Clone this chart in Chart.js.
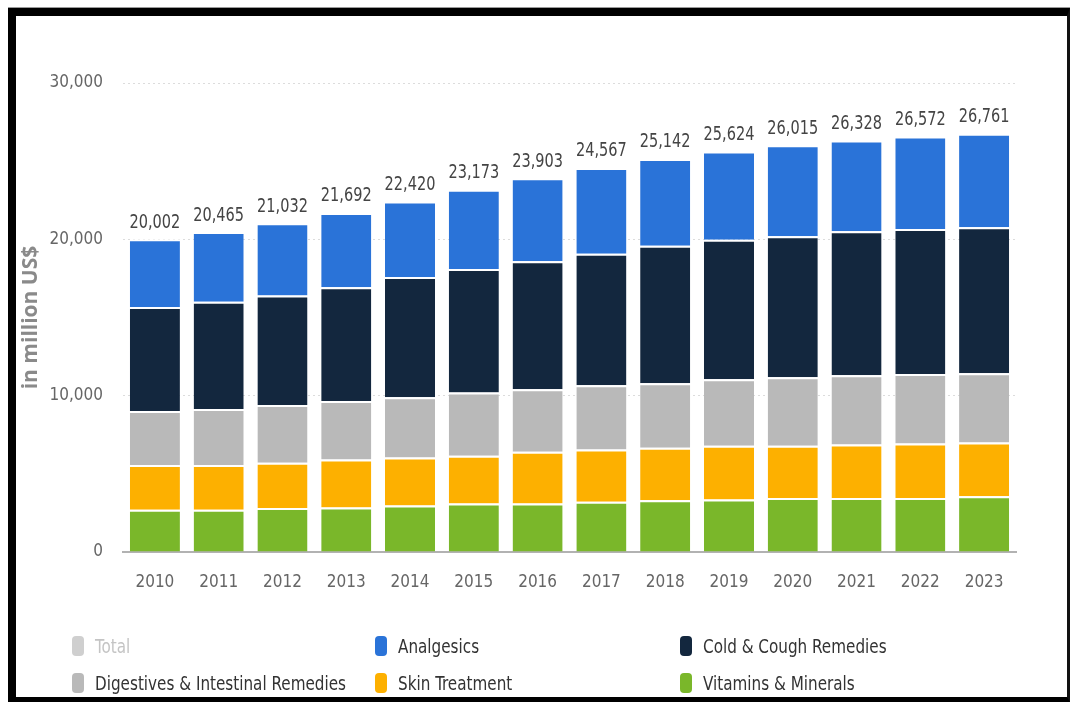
<!DOCTYPE html>
<html>
<head>
<meta charset="utf-8">
<script src="https://cdn.jsdelivr.net/npm/chart.js@4/dist/chart.umd.min.js"></script>
<style>
  html, body { margin: 0; padding: 0; background: #ffffff; }
  #wrap { position: relative; width: 1070px; height: 702px; overflow: hidden; background: #ffffff; }
  #chart { position: absolute; left: 0; top: 0; }
  #frame {
    position: absolute; left: 8px; top: 8px; width: 1051px; height: 681px;
    border-top: 8px solid #000; border-left: 8px solid #000;
    border-right: 3px solid #111; border-bottom: 5px solid #000;
    box-shadow: 0 -1px 0 #9a9a9a; pointer-events: none;
  }
  .lg { position: absolute; height: 22px; }
  .lg i { position: absolute; left: -23px; top: 1px; width: 12px; height: 20px; border-radius: 4px; }
  .lg span { position: absolute; left: 0; top: 0; transform: scaleX(0.89); transform-origin: 0 50%;
             font-family: "DejaVu Sans Condensed", "Liberation Sans Narrow", sans-serif;
             font-size: 19px; color: #333; line-height: 22px; white-space: nowrap; }
</style>
</head>
<body>
<div id="wrap">
  <canvas id="chart" width="1070" height="702"></canvas>
  <div id="legend"></div>
  <div id="frame"></div>
</div>
<script>
// Years on the x axis
const years = ['2010', '2011', '2012', '2013', '2014', '2015', '2016',
               '2017', '2018', '2019', '2020', '2021', '2022', '2023'];

// Revenue by segment, in million US$
const vitamins   = [2710, 2710, 2820, 2840, 2970, 3100, 3100, 3210, 3310, 3360, 3460, 3460, 3460, 3570];
const skin       = [2850, 2850, 2890, 3080, 3080, 3060, 3310, 3350, 3360, 3440, 3340, 3420, 3480, 3440];
const digestives = [3460, 3590, 3700, 3740, 3850, 4040, 4000, 4100, 4120, 4250, 4380, 4420, 4450, 4420];
const coldCough  = [6650, 6860, 6990, 7270, 7690, 7910, 8190, 8420, 8800, 8930, 9020, 9210, 9270, 9340];
const analgesics = [4332, 4455, 4632, 4762, 4830, 5063, 5303, 5487, 5552, 5644, 5815, 5818, 5912, 5991];

// Market total per year (labels above each stack)
const totals = [20002, 20465, 21032, 21692, 22420, 23173, 23903, 24567, 25142, 25624, 26015, 26328, 26572, 26761];

// Value axis ticks
const yTicks = [0, 10000, 20000, 30000];

const FONT = '"DejaVu Sans Condensed", "Liberation Sans Narrow", sans-serif';

const colors = {
  vitamins: '#7ab72a',
  skin: '#fdb000',
  digestives: '#b9b9b9',
  cold: '#13273e',
  analgesics: '#2a73d8',
  total: '#cfcfcf'
};

function seg(label, data, color) {
  return {
    label, data,
    backgroundColor: color,
    borderColor: '#ffffff',
    borderWidth: { top: 2, left: 0, right: 0, bottom: 0 },
    borderSkipped: 'start',
    categoryPercentage: 1.0,
    barPercentage: 0.785
  };
}

// Total value printed above every stack (narrowed glyphs)
const totalLabels = {
  id: 'totalLabels',
  afterDatasetsDraw(chart) {
    const { ctx, scales: { x, y } } = chart;
    ctx.save();
    ctx.font = '19px ' + FONT;
    ctx.fillStyle = '#444444';
    ctx.textAlign = 'center';
    ctx.textBaseline = 'bottom';
    totals.forEach((t, i) => {
      ctx.save();
      ctx.translate(x.getPixelForValue(i), y.getPixelForValue(t) - 7);
      ctx.scale(0.85, 1);
      ctx.fillText(t.toLocaleString('en-US'), 0, 0);
      ctx.restore();
    });
    ctx.restore();
  }
};

new Chart(document.getElementById('chart'), {
  type: 'bar',
  data: {
    labels: years,
    datasets: [
      seg('Vitamins & Minerals', vitamins, colors.vitamins),
      seg('Skin Treatment', skin, colors.skin),
      seg('Digestives & Intestinal Remedies', digestives, colors.digestives),
      seg('Cold & Cough Remedies', coldCough, colors.cold),
      seg('Analgesics', analgesics, colors.analgesics)
    ]
  },
  options: {
    responsive: false,
    animation: false,
    layout: { padding: { left: 0, right: 54, top: 83, bottom: 0 } },
    plugins: { legend: { display: false }, tooltip: { enabled: false } },
    scales: {
      x: {
        stacked: true,
        grid: { display: false, drawTicks: false },
        border: { display: true, color: '#b2b2b2', width: 2 },
        ticks: { padding: 20, color: '#666666', font: { family: FONT, size: 17 } },
        afterFit(s) { s.height = 150; }
      },
      y: {
        stacked: true,
        min: 0, max: 30000,
        afterBuildTicks(s) { s.ticks = yTicks.map(v => ({ value: v })); },
        grid: { color: '#dcdcdc', lineWidth: 1, drawTicks: false },
        border: { display: false, dash: [2, 3] },
        ticks: {
          padding: 20, color: '#666666', font: { family: FONT, size: 17 },
          callback: v => v.toLocaleString('en-US')
        },
        title: {
          display: true, text: 'in million US$', color: '#8a8a8a',
          font: { family: '"Open Sans", "DejaVu Sans", sans-serif', size: 21, weight: 'bold' },
          padding: { top: 18, bottom: 0 }
        },
        afterFit(s) { s.width = 123; }
      }
    }
  },
  plugins: [totalLabels]
});

// Legend laid out in three columns, two rows
const legendItems = [
  { text: 'Total', color: colors.total, textColor: '#c4c4c4', x: 95, y: 635 },
  { text: 'Analgesics', color: colors.analgesics, x: 398, y: 635 },
  { text: 'Cold & Cough Remedies', color: colors.cold, x: 703, y: 635 },
  { text: 'Digestives & Intestinal Remedies', color: colors.digestives, x: 95, y: 672 },
  { text: 'Skin Treatment', color: colors.skin, x: 398, y: 672 },
  { text: 'Vitamins & Minerals', color: colors.vitamins, x: 703, y: 672 }
];
const legend = document.getElementById('legend');
legendItems.forEach(it => {
  const d = document.createElement('div');
  d.className = 'lg';
  d.style.left = it.x + 'px';
  d.style.top = it.y + 'px';
  const m = document.createElement('i');
  m.style.background = it.color;
  const s = document.createElement('span');
  s.textContent = it.text;
  if (it.textColor) s.style.color = it.textColor;
  d.appendChild(m);
  d.appendChild(s);
  legend.appendChild(d);
});
</script>
</body>
</html>
